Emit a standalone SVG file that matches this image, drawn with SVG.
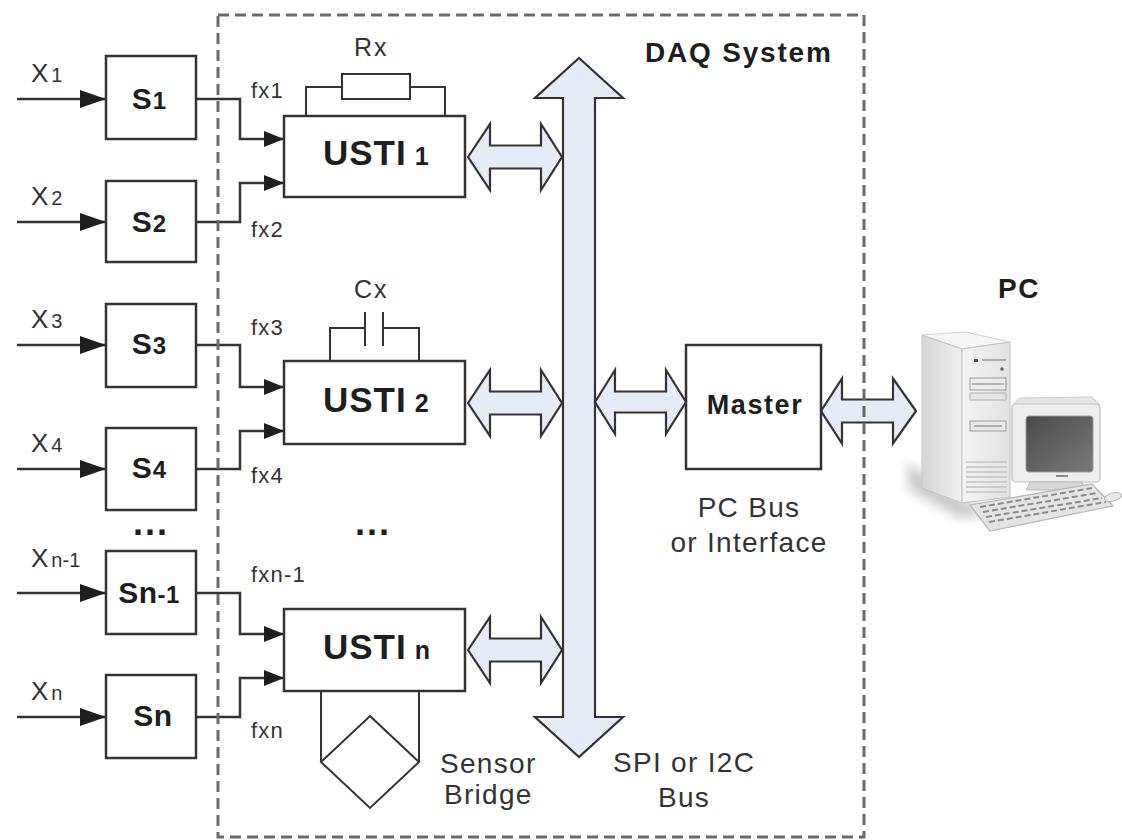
<svg xmlns="http://www.w3.org/2000/svg" width="1122" height="840" viewBox="0 0 1122 840">
  <style>
    .t { font-family: "Liberation Sans", Arial, sans-serif; fill: #333; }
    .b { font-family: "Liberation Sans", Arial, sans-serif; font-weight: bold; fill: #1e1e1e; }
    .box { fill: #fff; stroke: #333; stroke-width: 2.5; }
    .wire { fill: none; stroke: #333; stroke-width: 2.5; }
    .thin { fill: none; stroke: #333; stroke-width: 2; }
    .bus { fill: #e6ebf5; stroke: #333; stroke-width: 2.2; stroke-linejoin: miter; }
    .frame { fill: none; stroke: #6a6a6a; stroke-width: 3; stroke-dasharray: 11 6; }
  </style>
  <defs>
    <marker id="inArrow" markerUnits="userSpaceOnUse" markerWidth="26" markerHeight="18" refX="26" refY="9" orient="auto">
      <path d="M0,0 L26,9 L0,18 z" fill="#1e1e1e"/>
    </marker>
    <marker id="fxArrow" markerUnits="userSpaceOnUse" markerWidth="20" markerHeight="16" refX="20" refY="8" orient="auto">
      <path d="M0,0 L20,8 L0,16 z" fill="#1e1e1e"/>
    </marker>
    <linearGradient id="sideGrad" x1="0" y1="0" x2="1" y2="0">
      <stop offset="0" stop-color="#d4d4d4"/>
      <stop offset="1" stop-color="#f0f0f0"/>
    </linearGradient>
    <linearGradient id="frontGrad" x1="0" y1="0" x2="1" y2="0">
      <stop offset="0" stop-color="#f4f4f4"/>
      <stop offset="1" stop-color="#e2e2e2"/>
    </linearGradient>
    <linearGradient id="screenGrad" x1="0" y1="0" x2="1" y2="1">
      <stop offset="0" stop-color="#4a4a4a"/>
      <stop offset="1" stop-color="#7a7a7a"/>
    </linearGradient>
    <filter id="soft" x="-20%" y="-20%" width="140%" height="140%">
      <feGaussianBlur stdDeviation="0.6"/>
    </filter>
    <filter id="shadowBlur" x="-50%" y="-50%" width="200%" height="200%">
      <feGaussianBlur stdDeviation="6"/>
    </filter>
  </defs>

  <!-- connectors: sensor inputs, frequency outputs, bus arrows -->
  <g id="connectors">
    <path class="wire" d="M17,99 H106" marker-end="url(#inArrow)"/>
    <path class="wire" d="M17,222 H106" marker-end="url(#inArrow)"/>
    <path class="wire" d="M17,345 H106" marker-end="url(#inArrow)"/>
    <path class="wire" d="M17,469 H106" marker-end="url(#inArrow)"/>
    <path class="wire" d="M17,593 H106" marker-end="url(#inArrow)"/>
    <path class="wire" d="M17,717 H106" marker-end="url(#inArrow)"/>

    <path class="wire" d="M196,99 H240 V139 H284" marker-end="url(#fxArrow)"/>
    <path class="wire" d="M196,222 H240 V183 H284" marker-end="url(#fxArrow)"/>
    <path class="wire" d="M196,345 H240 V387 H284" marker-end="url(#fxArrow)"/>
    <path class="wire" d="M196,469 H240 V431 H284" marker-end="url(#fxArrow)"/>
    <path class="wire" d="M196,593 H240 V634 H284" marker-end="url(#fxArrow)"/>
    <path class="wire" d="M196,717 H240 V678 H284" marker-end="url(#fxArrow)"/>

    <!-- SPI / I2C bus -->
    <polygon class="bus" points="579,58 623,98 595,98 595,717 623,717 579,757 535,717 563,717 563,98 535,98"/>
    <!-- USTI to bus -->
    <polygon class="bus" points="468,157 490,124 490,145.5 541,145.5 541,124 562,157 541,190 541,168.5 490,168.5 490,190"/>
    <polygon class="bus" points="468,403 490,370 490,391.5 541,391.5 541,370 562,403 541,436 541,414.5 490,414.5 490,436"/>
    <polygon class="bus" points="468,650 490,617 490,638.5 541,638.5 541,617 562,650 541,683 541,661.5 490,661.5 490,683"/>
    <!-- bus to Master -->
    <polygon class="bus" points="595,402 615,370 615,391.5 666,391.5 666,370 686,402 666,434 666,412.5 615,412.5 615,434"/>
    <!-- Master to PC -->
    <polygon class="bus" points="821,411 842,378.5 842,399.5 893,399.5 893,378.5 916,411 893,443.5 893,422.5 842,422.5 842,443.5"/>
  </g>

  <!-- DAQ system boundary -->
  <rect id="daq-frame" class="frame" x="218" y="15" width="646" height="822"/>
  <text class="b" x="645" y="62" font-size="28" letter-spacing="1.8">DAQ System</text>

  <!-- input quantities -->
  <g id="inputs">
    <text class="t" x="31" y="82" font-size="26">X<tspan font-size="20" dx="3">1</tspan></text>
    <text class="t" x="31" y="205" font-size="26">X<tspan font-size="20" dx="3">2</tspan></text>
    <text class="t" x="31" y="328" font-size="26">X<tspan font-size="20" dx="3">3</tspan></text>
    <text class="t" x="31" y="452" font-size="26">X<tspan font-size="20" dx="3">4</tspan></text>
    <text class="t" x="31" y="567" font-size="26">X<tspan font-size="20" dx="3">n-1</tspan></text>
    <text class="t" x="31" y="700" font-size="26">X<tspan font-size="20" dx="3">n</tspan></text>
  </g>

  <!-- sensors -->
  <g id="sensor-1">
    <rect class="box" x="106" y="56" width="90" height="83"/>
    <text class="b" x="149" y="109" font-size="30" text-anchor="middle">S<tspan font-size="24" dx="1">1</tspan></text>
  </g>
  <g id="sensor-2">
    <rect class="box" x="106" y="181" width="90" height="81"/>
    <text class="b" x="149" y="232" font-size="30" text-anchor="middle">S<tspan font-size="24" dx="1">2</tspan></text>
  </g>
  <g id="sensor-3">
    <rect class="box" x="106" y="304" width="90" height="83"/>
    <text class="b" x="149" y="354" font-size="30" text-anchor="middle">S<tspan font-size="24" dx="1">3</tspan></text>
  </g>
  <g id="sensor-4">
    <rect class="box" x="106" y="428" width="90" height="82"/>
    <text class="b" x="149" y="478" font-size="30" text-anchor="middle">S<tspan font-size="24" dx="1">4</tspan></text>
  </g>
  <text class="b" x="151" y="535" font-size="36" letter-spacing="2" text-anchor="middle">...</text>
  <g id="sensor-n-1">
    <rect class="box" x="106" y="551" width="90" height="83"/>
    <text class="b" x="149" y="603" font-size="30" letter-spacing="0.5" text-anchor="middle">Sn<tspan font-size="24">-1</tspan></text>
  </g>
  <g id="sensor-n">
    <rect class="box" x="106" y="675" width="90" height="83"/>
    <text class="b" x="153" y="726" font-size="30" letter-spacing="0.5" text-anchor="middle">Sn</text>
  </g>

  <!-- frequency signal labels -->
  <g id="freq-labels">
    <text class="t" x="251" y="98" font-size="22" letter-spacing="1.2">fx1</text>
    <text class="t" x="251" y="237" font-size="22" letter-spacing="1.2">fx2</text>
    <text class="t" x="251" y="335" font-size="22" letter-spacing="1.2">fx3</text>
    <text class="t" x="251" y="483" font-size="22" letter-spacing="1.2">fx4</text>
    <text class="t" x="251" y="582" font-size="22" letter-spacing="1.2">fxn-1</text>
    <text class="t" x="251" y="738" font-size="22" letter-spacing="1.2">fxn</text>
  </g>

  <!-- USTI 1 with resistive sensor -->
  <g id="usti-1">
    <path class="thin" d="M306,116 V87 H342 M410,87 H445 V116"/>
    <rect class="thin" x="342" y="74" width="68" height="25"/>
    <text class="t" x="354" y="56" font-size="25" letter-spacing="2">Rx</text>
    <rect class="box" x="284" y="116" width="181" height="81"/>
    <text class="b" x="323" y="165" font-size="35" letter-spacing="1">USTI<tspan font-size="25"> 1</tspan></text>
  </g>

  <!-- USTI 2 with capacitive sensor -->
  <g id="usti-2">
    <path class="thin" d="M330,361 V328 H365 M365,312 V346 M383,312 V346 M383,328 H419 V361"/>
    <text class="t" x="354" y="298" font-size="25" letter-spacing="2">Cx</text>
    <rect class="box" x="284" y="361" width="181" height="83"/>
    <text class="b" x="323" y="412" font-size="35" letter-spacing="1">USTI<tspan font-size="25"> 2</tspan></text>
  </g>

  <text class="b" x="373" y="535" font-size="36" letter-spacing="2" text-anchor="middle">...</text>

  <!-- USTI n with sensor bridge -->
  <g id="usti-n">
    <path class="thin" d="M321,691 V762 M419,691 V762"/>
    <polygon class="thin" points="370,716 419,762 370,808 321,762"/>
    <rect class="box" x="284" y="609" width="181" height="82"/>
    <text class="b" x="323" y="659" font-size="35" letter-spacing="1">USTI<tspan font-size="25"> n</tspan></text>
    <text class="t" x="440" y="773" font-size="28" letter-spacing="1.3">Sensor</text>
    <text class="t" x="444" y="804" font-size="28" letter-spacing="1.3">Bridge</text>
  </g>

  <g id="bus-label">
    <text class="t" x="613" y="772" font-size="28" letter-spacing="1.3">SPI or I2C</text>
    <text class="t" x="658" y="807" font-size="28" letter-spacing="1.3">Bus</text>
  </g>

  <!-- master controller -->
  <g id="master">
    <rect class="box" x="686" y="345" width="135" height="124"/>
    <text class="b" x="755" y="414" font-size="27" letter-spacing="1.6" text-anchor="middle">Master</text>
    <text class="t" x="749" y="517" font-size="28" letter-spacing="1.3" text-anchor="middle">PC Bus</text>
    <text class="t" x="749" y="552" font-size="28" letter-spacing="1.3" text-anchor="middle">or Interface</text>
  </g>

  <!-- personal computer -->
  <g id="pc">
    <text class="b" x="998" y="298" font-size="28" letter-spacing="1.5">PC</text>
    <polygon points="906,462 962,500 1000,512 960,518 910,490" fill="#9a9a9a" opacity="0.55" filter="url(#shadowBlur)"/>
    <g filter="url(#soft)">
      <!-- tower -->
      <polygon points="922,335 966,332 1010,342 962,349" fill="#f6f6f6" stroke="#cfcfcf" stroke-width="1"/>
      <polygon points="922,335 962,349 962,503 922,488" fill="url(#sideGrad)" stroke="#c4c4c4" stroke-width="1"/>
      <polygon points="962,349 1010,342 1010,497 962,503" fill="url(#frontGrad)" stroke="#c4c4c4" stroke-width="1"/>
      <rect x="974" y="359" width="4" height="3" fill="#555"/>
      <path d="M982,360 H1006" stroke="#888" stroke-width="1.2"/>
      <circle cx="1002" cy="369" r="1.8" fill="#666"/>
      <rect x="970" y="378" width="36" height="12" fill="#ececec" stroke="#9a9a9a" stroke-width="1"/>
      <path d="M972,384 H1004" stroke="#777" stroke-width="1"/>
      <rect x="970" y="393" width="36" height="7" fill="#e4e4e4" stroke="#b0b0b0" stroke-width="1"/>
      <rect x="970" y="421" width="36" height="10" fill="#e8e8e8" stroke="#9a9a9a" stroke-width="1"/>
      <path d="M974,426 H1002" stroke="#777" stroke-width="1"/>
      <path d="M966,462 H1007 M966,467 H1007 M966,472 H1007 M966,477 H1007 M966,482 H1007 M966,487 H1007 M966,492 H1007" stroke="#c2c2c2" stroke-width="1.4"/>
      <!-- monitor -->
      <polygon points="1020,398 1092,397 1100,405 1012,406" fill="#e6e6e6" stroke="#c8c8c8" stroke-width="1"/>
      <rect x="1012" y="404" width="88" height="78" rx="4" fill="#eeeeee" stroke="#bdbdbd" stroke-width="1.2"/>
      <rect x="1026" y="416" width="67" height="56" rx="3" fill="url(#screenGrad)" stroke="#999" stroke-width="1"/>
      <rect x="1056" y="475" width="12" height="2" fill="#888"/>
      <polygon points="1030,482 1082,482 1086,490 1026,490" fill="#d8d8d8" stroke="#bbb" stroke-width="1"/>
      <!-- keyboard -->
      <polygon points="970,505 1092,484 1113,506 990,531" fill="#e4e4e4" stroke="#b5b5b5" stroke-width="1.2"/>
      <path d="M980,507 L1092,488 M983,512 L1097,493 M986,517 L1102,498 M989,522 L1106,502" stroke="#8a8a8a" stroke-width="2" stroke-dasharray="6 3"/>
      <!-- mouse -->
      <ellipse cx="1113" cy="497" rx="9" ry="4" transform="rotate(-15 1113 497)" fill="#e8e8e8" stroke="#b5b5b5" stroke-width="1"/>
    </g>
  </g>
</svg>
